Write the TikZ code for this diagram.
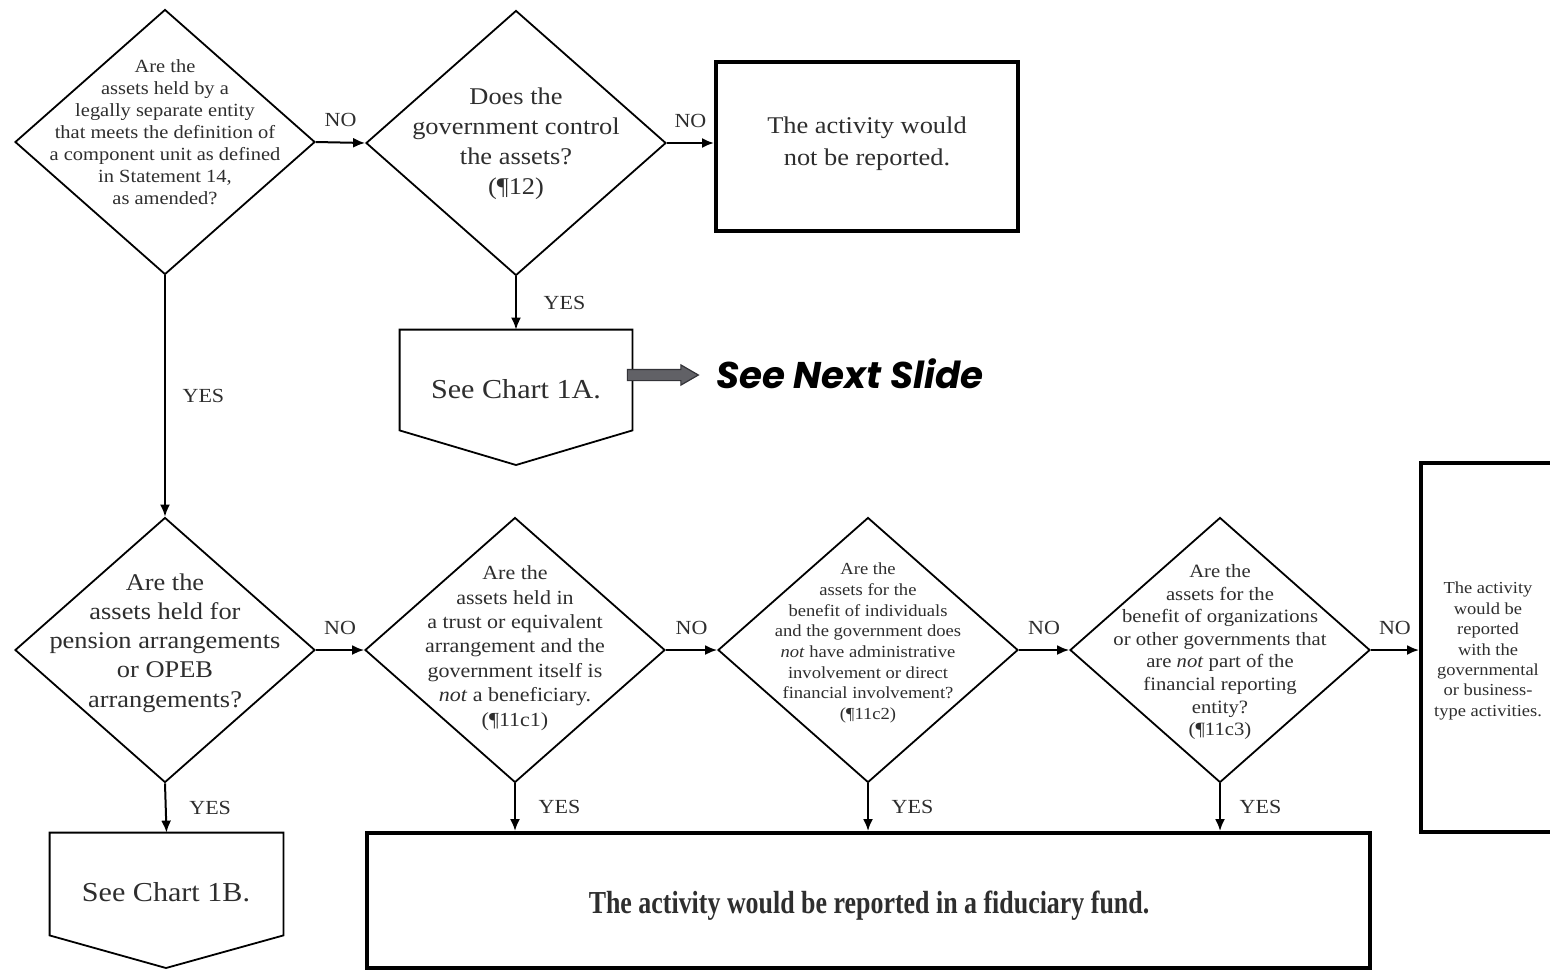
\documentclass[tikz,border=0pt]{standalone}
\usepackage{fontspec}
\setmainfont{Liberation Serif}[FakeStretch=1.1]
\newfontfamily\fidfont{Liberation Serif}[FakeStretch=0.81]
\newfontfamily\nextfont{Poppins}
\usetikzlibrary{shapes.geometric,shapes.arrows,arrows.meta}
\definecolor{txtgray}{rgb}{0.18,0.18,0.18}
\definecolor{arrfill}{rgb}{0.38,0.38,0.40}
\definecolor{arrdraw}{rgb}{0.20,0.20,0.22}
\begin{document}
\begin{tikzpicture}[x=0.5pt,y=-0.5pt,
  dia/.style={diamond,draw,line width=0.9pt,inner sep=0pt,minimum width=150pt,minimum height=132.5pt},
  qtext/.style={align=center,text=txtgray,inner sep=0pt},
  lab/.style={font=\fontsize{10}{12}\selectfont,text=txtgray},
  conn/.style={line width=1pt,-{Latex[length=6pt,width=5pt]}},
  endbox/.style={draw,line width=2pt,rectangle,inner sep=0pt},
  refbox/.style={rectangle,inner sep=0pt},
  pent/.style={draw,line width=0.9pt}]
\path[fill=white,use as bounding box] (0,0) rectangle (1550,970);
\clip (0,0) rectangle (1550,970);

% ---------- top row ----------
\node[dia] (d1) at (165,142) {};
\node[qtext,font=\fontsize{9.3}{11}\selectfont] (d1t) at (165,132)
  {Are the\\assets held by a\\legally separate entity\\that meets the definition of\\a component unit as defined\\in Statement 14,\\as amended?};

\node[dia] (d2) at (516,143) {};
\node[qtext,font=\fontsize{12}{15}\selectfont] (d2t) at (516,144)
  {Does the\\government control\\the assets?\\(¶12)};

\node[endbox,minimum width=151pt,minimum height=84.5pt] (nr) at (867,146.5) {};
\node[qtext,font=\fontsize{12}{16}\selectfont] (nrt) at (867,144)
  {The activity would\\not be reported.};

% See Chart 1A
\node[refbox,minimum width=116pt,minimum height=50pt] (c1a) at (516,380) {};
\draw[pent] (c1a.north west) -- (c1a.north east) -- (c1a.south east) -- (516,465) -- (c1a.south west) -- cycle;
\node[qtext,font=\fontsize{13.7}{15}\selectfont] (c1at) at (516,389) {See Chart 1A.};

\node[single arrow,draw=arrdraw,fill=arrfill,line width=0.6pt,inner xsep=0pt,inner ysep=2.5pt,
      minimum height=35.5pt,single arrow head extend=2.25pt,single arrow tip angle=60] (narr) at (658,375) {};
\node[font=\nextfont\bfseries\itshape\fontsize{18.6}{22}\selectfont,inner sep=0pt,anchor=west] (next) at (716,374) {See Next Slide};

% ---------- bottom row ----------
\node[dia] (d3) at (165,650) {};
\node[qtext,font=\fontsize{12}{14.6}\selectfont] (d3t) at (165,643)
  {Are the\\assets held for\\pension arrangements\\or OPEB\\arrangements?};

\node[dia] (d4) at (515,650) {};
\node[qtext,font=\fontsize{10}{12.2}\selectfont] (d4t) at (515,648)
  {Are the\\assets held in\\a trust or equivalent\\arrangement and the\\government itself is\\\textit{not} a beneficiary.\\(¶11c1)};

\node[dia] (d5) at (868,650) {};
\node[qtext,font=\fontsize{8.45}{10.35}\selectfont] (d5t) at (868,643)
  {Are the\\assets for the\\benefit of individuals\\and the government does\\\textit{not} have administrative\\involvement or direct\\financial involvement?\\(¶11c2)};

\node[dia] (d6) at (1220,650) {};
\node[qtext,font=\fontsize{9.4}{11.3}\selectfont] (d6t) at (1220,652)
  {Are the\\assets for the\\benefit of organizations\\or other governments that\\are \textit{not} part of the\\financial reporting\\entity?\\(¶11c3)};

\node[endbox,minimum width=67.5pt,minimum height=184.5pt] (gov) at (1488.5,647.5) {};
\node[qtext,font=\fontsize{8.4}{10.2}\selectfont] (govt) at (1488,651)
  {The activity\\would be\\reported\\with the\\governmental\\or business-\\type activities.};

% See Chart 1B
\node[refbox,minimum width=116.5pt,minimum height=51pt] (c1b) at (166.5,884) {};
\draw[pent] (c1b.north west) -- (c1b.north east) -- (c1b.south east) -- (166,968) -- (c1b.south west) -- cycle;
\node[qtext,font=\fontsize{13.7}{15}\selectfont] (c1bt) at (166,892) {See Chart 1B.};

\node[endbox,minimum width=501.5pt,minimum height=67.5pt] (fid) at (868.5,900.5) {};
\node[qtext,font=\fidfont\bfseries\fontsize{16}{18}\selectfont,anchor=base] (fidt) at (869,913)
  {The activity would be reported in a fiduciary fund.};

% ---------- connectors ----------
\draw[conn] (d1.east) -- (d2.west) node[lab,midway,above=4pt] {NO};
\draw[conn] (d2.east) -- (d2.east -| nr.west) node[lab,midway,above=4pt] {NO};
\draw[conn] (d2.south) -- (c1a.north) node[lab,midway,right=10pt] {YES};
\draw[conn] (d1.south) -- (d3.north) node[lab,midway,right=5pt] {YES};
\draw[conn] (d3.east) -- (d4.west) node[lab,midway,above=4pt] {NO};
\draw[conn] (d4.east) -- (d5.west) node[lab,midway,above=4pt] {NO};
\draw[conn] (d5.east) -- (d6.west) node[lab,midway,above=4pt] {NO};
\draw[conn] (d6.east) -- (d6.east -| gov.west) node[lab,midway,above=4pt] {NO};
\draw[conn] (d3.south) -- (c1b.north) node[lab,midway,right=8pt] {YES};
\draw[conn] (d4.south) -- (d4.south |- fid.north) node[lab,midway,right=8pt] {YES};
\draw[conn] (d5.south) -- (d5.south |- fid.north) node[lab,midway,right=8pt] {YES};
\draw[conn] (d6.south) -- (d6.south |- fid.north) node[lab,midway,right=6pt] {YES};
\end{tikzpicture}
\end{document}
